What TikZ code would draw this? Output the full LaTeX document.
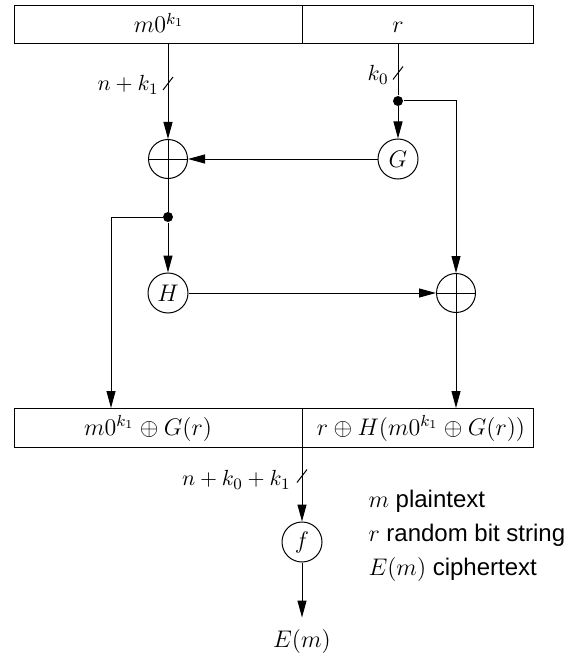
\documentclass[tikz,border=0pt]{standalone}
\usepackage{fontspec}
\newfontfamily\legendfont{Liberation Sans}
\usetikzlibrary{arrows.meta}
\begin{document}
\begin{tikzpicture}[x=0.5pt,y=-0.5pt,
  line width=0.5pt,
  arr/.style={-{Triangle[length=8.5pt,width=4.5pt]}},
  cell/.style={draw, inner sep=0pt, outer sep=0pt},
  fn/.style={draw, circle, minimum size=20pt, inner sep=0pt, font=\fontsize{12}{14}\selectfont},
  xorn/.style={draw, circle, minimum size=19.5pt, inner sep=0pt},
  junct/.style={circle, fill, inner sep=0pt, minimum size=5pt},
  txt/.style={font=\fontsize{12}{14}\selectfont, inner sep=0pt, anchor=base},
  lbl/.style={font=\fontsize{10.8}{13}\selectfont, inner sep=0pt, anchor=east},
  leg/.style={font=\fontsize{12}{14}\selectfont\legendfont, inner sep=0pt, anchor=base west},
]
\useasboundingbox (0,0) rectangle (574,658);

% top register
\node[cell, minimum width=144pt, minimum height=19pt] (tl) at (158,25) {};
\node[cell, minimum width=115.5pt, minimum height=19pt] (tr) at (417.5,25) {};
\node[txt] (tlt) at (159,33) {$m0^{k_1}$};
\node[txt] (trt) at (398,33) {$r$};

% bottom register
\node[cell, minimum width=144pt, minimum height=19.5pt] (bl) at (158,427.5) {};
\node[cell, minimum width=115.5pt, minimum height=19.5pt] (br) at (417.5,427.5) {};
\node[txt] (blt) at (148,435) {$m0^{k_1}\oplus G(r)$};
\node[txt] (brt) at (421,435) {$r\oplus H(m0^{k_1}\oplus G(r))$};

% function nodes
\node[xorn] (ox1) at (168,159) {};
\node[fn] (G) at (398,159) {$G$};
\node[fn] (H) at (168,293) {$H$};
\node[xorn] (ox2) at (456,293) {};
\node[fn] (f) at (302,542) {$f$};
\node[txt] (Em) at (302,647) {$E(m)$};
\draw (ox1.north) -- (ox1.south) (ox1.west) -- (ox1.east);
\draw (ox2.north) -- (ox2.south) (ox2.west) -- (ox2.east);

% junctions
\node[junct] (j1) at (398,101) {};
\node[junct] (j2) at (168,217) {};
\coordinate (c2) at (111,217);

% bus-width slashes
\coordinate (s1) at (168,83.5);
\coordinate (s2) at (398,73);
\coordinate (s3) at (302,476);
\draw ([shift={(-5,6.5)}]s1) -- ([shift={(5,-6.5)}]s1);
\draw ([shift={(-5,6.5)}]s2) -- ([shift={(5,-6.5)}]s2);
\draw ([shift={(-5,6.5)}]s3) -- ([shift={(5,-6.5)}]s3);
\node[lbl] (l1) at (159,85) {$n+k_1$};
\node[lbl] (l2) at (389,75) {$k_0$};
\node[lbl] (l3) at (291,480) {$n+k_0+k_1$};

% connectors
\draw[arr] (ox1 |- tl.south) -- (ox1);
\draw (G |- tr.south) -- (j1);
\draw[arr] (j1) -- (G);
\draw[arr] (j1) -| (ox2);
\draw[arr] (G) -- (ox1);
\draw (ox1) -- (j2);
\draw[arr] (j2) -- (H);
\draw[arr] (j2) -- (c2) -- (c2 |- bl.north);
\draw[arr] (H) -- (ox2);
\draw[arr] (ox2) -- (ox2 |- br.north);
\draw[arr] (br.south west) -- (f);
\draw[arr] (f) -- ([yshift=5.5pt]Em.north);

% legend
\node[leg] (g1) at (368,507) {$m$ plaintext};
\node[leg] (g2) at (368,541) {$r$ random bit string};
\node[leg] (g3) at (368,575) {$E(m)$ ciphertext};
\end{tikzpicture}
\end{document}
